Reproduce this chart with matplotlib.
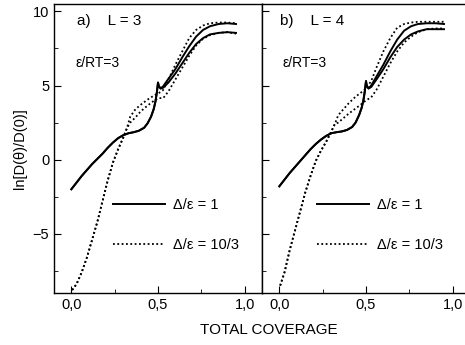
import numpy as np
import matplotlib
matplotlib.use("Agg")
import matplotlib.pyplot as plt
from matplotlib.ticker import MultipleLocator, FuncFormatter

plt.rcParams["font.family"] = ["Liberation Sans", "DejaVu Sans"]
plt.rcParams["font.size"] = 10

# shared low-coverage part of the solid curves (Delta/eps = 1)
x_lo = [0.0, 0.03, 0.06, 0.09, 0.12, 0.15, 0.18, 0.21, 0.24, 0.27, 0.30, 0.33,
        0.36, 0.39, 0.42, 0.44, 0.46, 0.475, 0.485, 0.493, 0.5, 0.505, 0.515]
x_hi = [0.53, 0.56, 0.6, 0.64, 0.68, 0.72, 0.76, 0.8, 0.85, 0.9, 0.95]

a_solid_lo = [-2.0, -1.55, -1.1, -0.7, -0.3, 0.05, 0.4, 0.8, 1.15, 1.45, 1.65, 1.78,
              1.85, 1.95, 2.15, 2.45, 2.9, 3.4, 3.9, 4.5, 5.2, 4.95, 4.8]
a_solid_up = [4.95, 5.45, 6.1, 6.9, 7.65, 8.3, 8.75, 9.0, 9.15, 9.2, 9.15]
a_solid_dn = [4.85, 5.2, 5.8, 6.5, 7.2, 7.8, 8.2, 8.45, 8.55, 8.6, 8.55]

b_solid_lo = [-1.8, -1.35, -0.9, -0.5, -0.1, 0.3, 0.7, 1.05, 1.35, 1.6, 1.78, 1.85,
              1.9, 2.0, 2.2, 2.5, 3.0, 3.5, 4.0, 4.6, 5.3, 4.95, 4.8]
b_solid_up = [5.0, 5.6, 6.4, 7.3, 8.1, 8.7, 9.0, 9.15, 9.2, 9.2, 9.15]
b_solid_dn = [4.9, 5.4, 6.1, 6.9, 7.6, 8.1, 8.45, 8.65, 8.8, 8.8, 8.8]

# dotted curves (Delta/eps = 10/3)
xd_lo = [0.005, 0.03, 0.06, 0.09, 0.12, 0.15, 0.18, 0.21, 0.24, 0.27, 0.30, 0.32]
xd_hi = [0.34, 0.37, 0.4, 0.44, 0.48, 0.5, 0.53, 0.56, 0.6, 0.64, 0.68, 0.72,
         0.76, 0.8, 0.85, 0.9, 0.95]

a_dot_lo = [-8.8, -8.4, -7.6, -6.6, -5.4, -4.2, -2.8, -1.4, -0.2, 0.7, 1.5, 2.1]
a_dot_up = [2.9, 3.4, 3.7, 4.05, 4.35, 4.45, 4.7, 5.4, 6.4, 7.3, 8.2, 8.75,
            9.05, 9.2, 9.25, 9.25, 9.2]
a_dot_dn = [2.5, 2.85, 3.25, 3.65, 4.0, 4.15, 4.15, 4.6, 5.4, 6.2, 7.0, 7.7,
            8.15, 8.4, 8.55, 8.6, 8.5]

b_dot_lo = [-8.5, -7.6, -6.1, -4.8, -3.5, -2.2, -1.1, -0.1, 0.6, 1.2, 1.9, 2.4]
b_dot_up = [3.0, 3.4, 3.8, 4.25, 4.6, 4.8, 5.3, 6.2, 7.3, 8.2, 8.9, 9.15,
            9.25, 9.3, 9.3, 9.3, 9.3]
b_dot_dn = [2.5, 2.8, 3.1, 3.45, 3.8, 4.0, 4.2, 4.7, 5.6, 6.5, 7.3, 7.9,
            8.3, 8.6, 8.8, 8.85, 8.85]

panels = [
    ("a)    L = 3", a_solid_lo, a_solid_up, a_solid_dn, a_dot_lo, a_dot_up, a_dot_dn),
    ("b)    L = 4", b_solid_lo, b_solid_up, b_solid_dn, b_dot_lo, b_dot_up, b_dot_dn),
]
labels = ["\u0394/\u03b5 = 1", "\u0394/\u03b5 = 10/3"]

fig = plt.figure(figsize=(4.65, 3.45), dpi=100)
w = 208 / 465
h = 289 / 345
b0 = 52 / 345
axes = [fig.add_axes([54 / 465, b0, w, h]), fig.add_axes([262 / 465, b0, w, h])]

dots = (0, (1, 1.4))
comma = FuncFormatter(lambda v, p: ("%.1f" % v).replace(".", ","))

for i, (ax, (title, s_lo, s_up, s_dn, d_lo, d_up, d_dn)) in enumerate(zip(axes, panels)):
    ln1, = ax.plot(x_lo + x_hi, s_lo + s_up, color="black", lw=1.4, label=labels[0])
    ax.plot(x_lo + x_hi, s_lo + s_dn, color="black", lw=1.4)
    ln2, = ax.plot(xd_lo + xd_hi, d_lo + d_up, color="black", lw=1.3, ls=dots, label=labels[1])
    ax.plot(xd_lo + xd_hi, d_lo + d_dn, color="black", lw=1.3, ls=dots)

    ax.set_xlim(-0.1, 1.1)
    ax.set_ylim(-9, 10.5)
    ax.xaxis.set_major_locator(MultipleLocator(0.5))
    ax.xaxis.set_minor_locator(MultipleLocator(0.25))
    ax.yaxis.set_major_locator(MultipleLocator(5))
    ax.yaxis.set_minor_locator(MultipleLocator(2.5))
    ax.xaxis.set_major_formatter(comma)
    ax.tick_params(which="both", direction="in", top=False, right=False)
    ax.tick_params(which="major", length=5, labelsize=10.5)
    ax.tick_params(which="minor", length=3)
    for sp in ax.spines.values():
        sp.set_linewidth(1.0)
    if i == 1:
        ax.tick_params(labelleft=False)
        ax.spines["right"].set_visible(False)

    ax.text(0.11 if i == 0 else 0.085, 0.94, title, transform=ax.transAxes,
            fontsize=11, va="center", ha="left")
    ax.text(0.105 if i == 0 else 0.10, 0.795, "\u03b5/RT=3", transform=ax.transAxes,
            fontsize=10, va="center", ha="left")

    leg = ax.legend(handles=[ln1, ln2], loc="center left",
                    bbox_to_anchor=(0.22 if i == 0 else 0.2, 0.235),
                    frameon=False, handlelength=3.6, handletextpad=0.5,
                    labelspacing=1.8, fontsize=10.5)

axes[0].set_ylabel("ln[D(\u03b8)/D(0)]", fontsize=10.5, labelpad=4)
fig.text(269 / 465, 1 - 330 / 345, "TOTAL COVERAGE", ha="center", va="center", fontsize=11)

fig.savefig("out.png", dpi=100)
